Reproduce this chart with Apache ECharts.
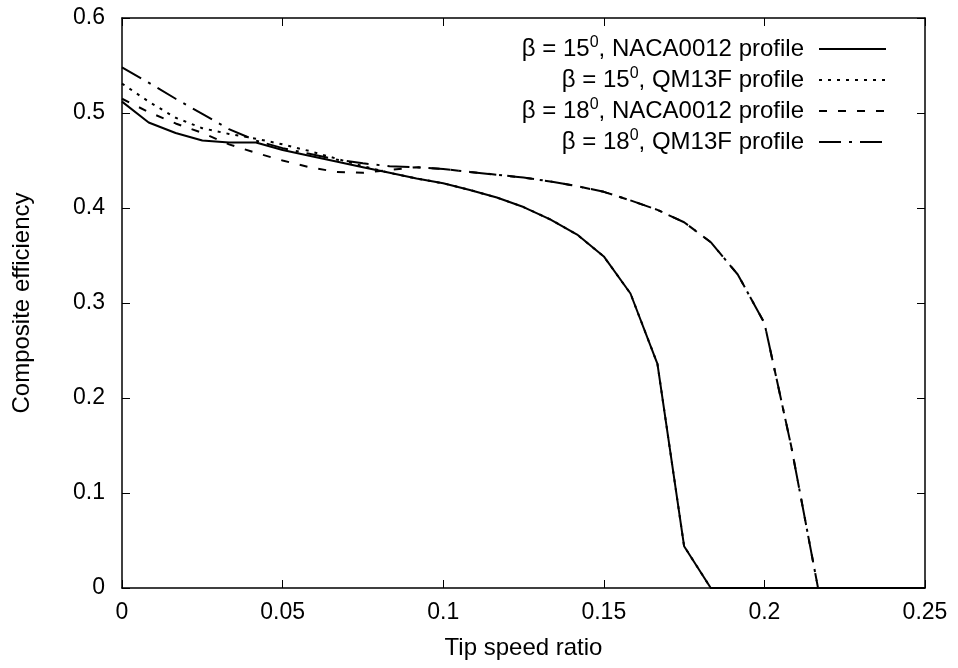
<!DOCTYPE html>
<html>
<head>
<meta charset="utf-8">
<script src="https://cdn.jsdelivr.net/npm/echarts@6/dist/echarts.min.js"></script>
<style>html,body{margin:0;padding:0;background:#fff}#c{width:958px;height:668px}</style>
</head>
<body>
<div id="c"></div>
<script>
// Tip speed ratio sample points
const tsr = [0, 0.0083, 0.0167, 0.025, 0.0333, 0.0417, 0.05, 0.0583, 0.0667, 0.075,
  0.0833, 0.0917, 0.1, 0.1083, 0.1167, 0.125, 0.1333, 0.1417, 0.15, 0.1583,
  0.1667, 0.175, 0.1833, 0.1917, 0.2, 0.2083, 0.2167, 0.225, 0.2333, 0.2417, 0.25];
// beta = 15 deg, NACA0012
const b15naca = [0.512, 0.490, 0.479, 0.471, 0.469, 0.469, 0.461, 0.455, 0.449, 0.443,
  0.437, 0.431, 0.426, 0.419, 0.411, 0.401, 0.388, 0.372, 0.349, 0.310,
  0.236, 0.044, 0, 0, 0, 0, 0, 0, 0, 0, 0];
// beta = 15 deg, QM13F
const b15qm = [0.531, 0.512, 0.495, 0.484, 0.478, 0.473, 0.467, 0.460, 0.452, 0.444,
  0.437, 0.431, 0.426, 0.419, 0.411, 0.401, 0.388, 0.372, 0.349, 0.310,
  0.236, 0.044, 0, 0, 0, 0, 0, 0, 0, 0, 0];
// beta = 18 deg, NACA0012
const b18naca = [0.515, 0.501, 0.489, 0.479, 0.467, 0.458, 0.450, 0.443, 0.438, 0.437,
  0.440, 0.443, 0.441, 0.438, 0.435, 0.432, 0.428, 0.423, 0.417, 0.408,
  0.398, 0.385, 0.364, 0.330, 0.279, 0.150, 0, 0, 0, 0, 0];
// beta = 18 deg, QM13F
const b18qm = [0.548, 0.532, 0.515, 0.499, 0.483, 0.471, 0.463, 0.457, 0.451, 0.447,
  0.444, 0.443, 0.441, 0.438, 0.435, 0.432, 0.428, 0.423, 0.417, 0.408,
  0.398, 0.385, 0.364, 0.330, 0.279, 0.150, 0, 0, 0, 0, 0];

const seriesNames = ['β = 15⁰, NACA0012 profile', 'β = 15⁰, QM13F profile',
  'β = 18⁰, NACA0012 profile', 'β = 18⁰, QM13F profile'];
const seriesValues = [b15naca, b15qm, b18naca, b18qm];
const dashTypes = ['solid', [3, 6], [8, 11], [22, 8, 3, 8]];

const FONT = 'Liberation Sans, Arial, Helvetica, sans-serif';
const FS = 24;
const TFS = 23;

function pairs(ys) { return tsr.map((x, i) => [x, ys[i]]); }

const chart = echarts.init(document.getElementById('c'), null, {renderer: 'canvas'});

const axisCommon = {
  axisLine: {show: true, onZero: false, lineStyle: {color: '#000', width: 1.5}},
  axisTick: {show: true, inside: true, length: 8, lineStyle: {color: '#000', width: 1}},
  splitLine: {show: false},
};

chart.setOption({
  animation: false,
  backgroundColor: '#fff',
  textStyle: {fontFamily: FONT, color: '#000'},
  grid: {left: 122, right: 33, top: 18, bottom: 80},
  legend: {
    orient: 'vertical',
    align: 'right',
    right: 71,
    top: 35,
    padding: 0,
    itemWidth: 67,
    itemHeight: 14,
    itemGap: 3,
    selectedMode: false,
    data: seriesNames,
    itemStyle: {opacity: 0, color: 'rgba(0,0,0,0)', borderColor: 'rgba(0,0,0,0)', borderWidth: 0},
    formatter: name => name.replace('⁰', '{sup|0}'),
    textStyle: {
      fontFamily: FONT, fontSize: FS, color: '#000', lineHeight: 28, padding: [0, 10, 0, 0],
      rich: {sup: {fontFamily: FONT, fontSize: 16, verticalAlign: 'top', lineHeight: 28, padding: [0, 0, 10, 0]}}
    }
  },
  xAxis: [
    Object.assign({
      type: 'value', min: 0, max: 0.25, interval: 0.05, position: 'bottom',
      name: 'Tip speed ratio', nameLocation: 'middle', nameGap: 48,
      nameTextStyle: {fontFamily: FONT, fontSize: FS, color: '#000'},
      axisLabel: {fontFamily: FONT, fontSize: TFS, color: '#000', margin: 13, formatter: v => String(+v.toFixed(2))}
    }, axisCommon),
    Object.assign({
      type: 'value', min: 0, max: 0.25, interval: 0.05, position: 'top',
      axisLabel: {show: false}
    }, axisCommon)
  ],
  yAxis: [
    Object.assign({
      type: 'value', min: 0, max: 0.6, interval: 0.1, position: 'left',
      name: 'Composite efficiency', nameLocation: 'middle', nameGap: 88,
      nameTextStyle: {fontFamily: FONT, fontSize: FS, color: '#000'},
      axisLabel: {fontFamily: FONT, fontSize: TFS, color: '#000', margin: 17, formatter: v => String(+v.toFixed(1))}
    }, axisCommon),
    Object.assign({
      type: 'value', min: 0, max: 0.6, interval: 0.1, position: 'right',
      axisLabel: {show: false}
    }, axisCommon)
  ],
  series: seriesNames.map((n, k) => ({
    name: n,
    type: 'line',
    xAxisIndex: 0,
    yAxisIndex: 0,
    data: pairs(seriesValues[k]),
    symbol: 'none',
    showSymbol: false,
    color: '#000',
    lineStyle: {color: '#000', width: 2, type: dashTypes[k]},
    z: 10 - k
  }))
});
</script>
</body>
</html>
